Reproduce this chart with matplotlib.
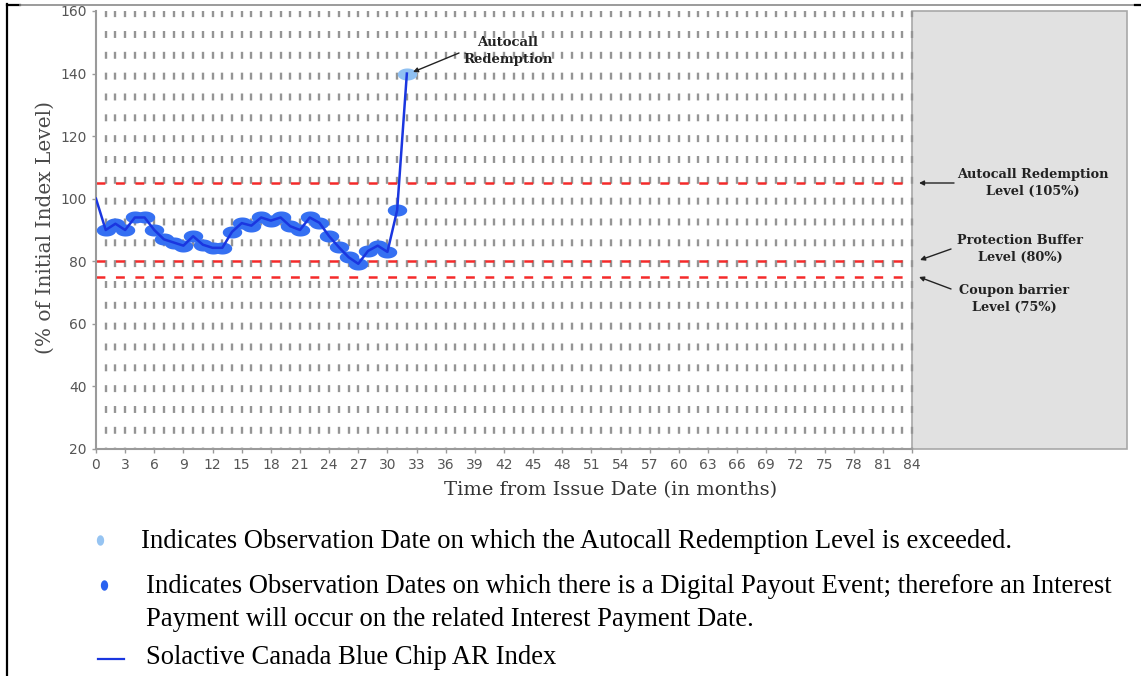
import numpy as np
import matplotlib.pyplot as plt
from matplotlib.path import Path
from matplotlib.patches import Rectangle

plt.rcParams['lines.scale_dashes'] = False

# data
months = np.arange(0, 33)
index_level = [100, 90, 92, 90, 94, 94, 90, 87, 86, 85, 88, 85.3, 84.3, 84.3,
               89.4, 92.2, 91.4, 94, 93, 94, 91.2, 90, 94, 92.3, 88, 84.5,
               81.3, 79.2, 83.3, 85, 83, 96.3, 140]
payout_months = months[1:32]
autocall_month = 32
level_values = [105, 80, 75]
level_labels = ["Autocall Redemption\nLevel (105%)",
                "Protection Buffer\nLevel (80%)",
                "Coupon barrier\nLevel (75%)"]
obs_months = np.arange(1, 85)
xticks = np.arange(0, 85, 3)
yticks = np.arange(20, 161, 20)
legend_lines = [
    "Indicates Observation Date on which the Autocall Redemption Level is exceeded.",
    "Indicates Observation Dates on which there is a Digital Payout Event; therefore an Interest\nPayment will occur on the related Interest Payment Date.",
    "Solactive Canada Blue Chip AR Index",
]

W, H = 1141, 676
fig = plt.figure(figsize=(W / 100, H / 100), dpi=100)
ax = fig.add_axes([96 / W, 1 - 449 / H, (1127 - 96) / W, (449 - 11) / H])
xmax = 84 * (1127 - 96) / (912 - 96)
ax.set_xlim(0, xmax)
ax.set_ylim(20, 160)

# shaded region after maturity
ax.add_patch(Rectangle((84, 20), xmax - 84, 140, facecolor='#e1e1e1',
                       edgecolor='#a8a8a8', lw=1.2, zorder=0.5, clip_on=False))

# dashed observation grid
ax.vlines(obs_months, 160, 20, colors='#959595', lw=1.7,
          linestyles=[(0.6, (5.0, 10.0))], zorder=1)

# level lines
for lv in level_values:
    ax.plot([0, 84], [lv, lv], color='#f52a2a', lw=1.8,
            dashes=(6.4, 7.6), zorder=2)

# ellipse marker
t = np.linspace(0, 2 * np.pi, 60)
ell = Path(np.column_stack([np.cos(t), 0.62 * np.sin(t)]))
ell_v = Path(np.column_stack([0.7 * np.cos(t), np.sin(t)]))

idx = np.array(index_level)
ax.plot(payout_months, idx[payout_months], ls='none', marker=ell, ms=14,
        mfc='#3570f2', mec='none', zorder=3)
ax.plot(autocall_month, idx[autocall_month], ls='none', marker=ell, ms=14,
        mfc='#8fc0f2', mec='none', zorder=3)
ax.plot(months, idx, color='#1a36e0', lw=1.8, zorder=4)

# axes styling
for s in ['top', 'right']:
    ax.spines[s].set_visible(False)
ax.spines['left'].set_color('#9a9a9a')
ax.spines['left'].set_linewidth(1.5)
ax.spines['bottom'].set_color('#9a9a9a')
ax.spines['bottom'].set_linewidth(1.5)
ax.spines['bottom'].set_bounds(0, 84)
ax.set_xticks(xticks)
ax.set_yticks(yticks)
ax.tick_params(colors='#9a9a9a', labelcolor='#555555', labelsize=10,
               length=3, width=1)

fig.text(45 / W, 1 - 228 / H, "(% of Initial Index Level)", rotation=90,
         ha='center', va='center', family='DejaVu Serif', fontsize=14.5,
         color='#4a4a4a')
fig.text(611 / W, 1 - 490 / H, "Time from Issue Date (in months)",
         ha='center', va='center', family='DejaVu Serif', fontsize=14,
         color='#333333')

def px(x, y):
    return ((x - 96) / 9.714, 160 - (y - 11) / 3.1286)

arrow = dict(arrowstyle='-|>', color='#222222', lw=1, mutation_scale=7,
             shrinkA=0, shrinkB=0)
ax.annotate('', xy=px(413, 72), xytext=px(459, 53), arrowprops=arrow)
ax.text(*px(508, 51), "Autocall\nRedemption", ha='center', va='center',
        family='DejaVu Serif', weight='bold', fontsize=9.5, color='#222222',
        linespacing=1.4)

label_pos = [(1033, 183), (1020, 249), (1014, 299)]
arrow_tails = [(954, 183), (951, 249), (951, 289)]
arrow_tips = [(919, 183), (920, 260), (919, 277)]
for lab, p, a, b in zip(level_labels, label_pos, arrow_tails, arrow_tips):
    ax.annotate('', xy=px(*b), xytext=px(*a), arrowprops=arrow,
                annotation_clip=False)
    ax.text(*px(*p), lab, ha='center', va='center', family='DejaVu Serif',
            weight='bold', fontsize=9.3, color='#222222', linespacing=1.35,
            clip_on=False)

# overlay for page frame and key
ov = fig.add_axes([0, 0, 1, 1])
ov.set_xlim(0, W)
ov.set_ylim(H, 0)
ov.axis('off')
ov.plot([7, 7], [4, H], color='black', lw=1.6)
ov.plot([7, 20], [4.5, 4.5], color='black', lw=1.6)
ov.plot([20, 1134], [4.5, 4.5], color='#8a8a8a', lw=1.2)
ov.plot([1135, W], [4.5, 4.5], color='black', lw=1.6)

ov.plot(100, 540, marker=ell_v, ms=7.5, mfc='#96c4f2', mec='none', ls='none')
ov.plot(104, 585, marker=ell_v, ms=7.5, mfc='#2a62f0', mec='none', ls='none')
ov.plot([98, 124], [659, 659], color='#1a36e0', lw=1.6)
tkw = dict(family='Liberation Serif', fontsize=19.2, color='black', va='center')
ov.text(141, 541, legend_lines[0], **tkw)
ov.text(146, 603, legend_lines[1], linespacing=1.45, **tkw)
ov.text(146, 658, legend_lines[2], **tkw)

fig.savefig('out.png', dpi=100)
